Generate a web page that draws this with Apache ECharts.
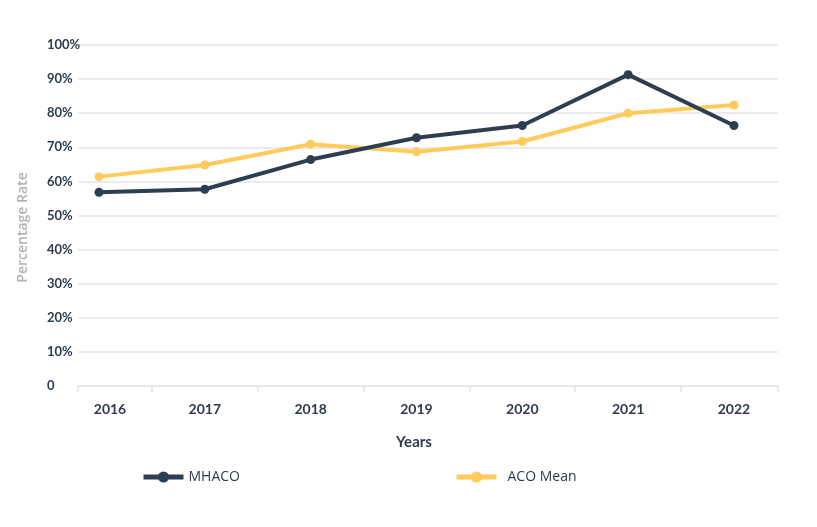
<!DOCTYPE html>
<html>
<head>
<meta charset="utf-8">
<script src="https://cdn.jsdelivr.net/npm/echarts@6/dist/echarts.min.js"></script>
<style>
html,body{margin:0;padding:0;background:#fff;}
#chart{width:817px;height:527px;}
</style>
</head>
<body>
<div id="chart"></div>
<script>
const years = [2016, 2017, 2018, 2019, 2020, 2021, 2022];
const mhaco = [56.8, 57.7, 66.4, 72.8, 76.4, 91.3, 76.4];
const acoMean = [61.4, 64.8, 70.9, 68.7, 71.7, 80.0, 82.4];
const yTicks = [0, 10, 20, 30, 40, 50, 60, 70, 80, 90, 100];

const dark = '#2d3e50';
const yellow = '#ffcb5b';
const labelColor = '#2e3b4e';
const xMin = 2015.8016, xMax = 2022.416;
const tickVals = [xMin].concat(years.slice(1).map(y => y - 0.5)).concat([xMax]);

const legendBase = { top: 470, itemWidth: 40, itemHeight: 14, itemGap: 6, padding: 0,
  lineStyle: { width: 5 } };

const chart = echarts.init(document.getElementById('chart'));
chart.setOption({
  animation: false,
  backgroundColor: '#fff',
  grid: { left: 78, right: 39, top: 45, bottom: 141 },
  legend: [
    Object.assign({}, legendBase, { data: ['MHACO'], left: 141,
      textStyle: { fontFamily: 'Open Sans', fontSize: 14, color: labelColor } }),
    Object.assign({}, legendBase, { data: ['ACO Mean'], left: 454,
      textStyle: { fontFamily: 'Open Sans', fontSize: 14, color: labelColor, padding: [0, 0, 0, 6] } })
  ],
  xAxis: {
    type: 'value', min: xMin, max: xMax,
    name: 'Years', nameLocation: 'middle', nameGap: 49,
    nameTextStyle: { fontFamily: 'Lato', fontWeight: 'bold', fontSize: 15, color: labelColor, padding: [0, 28, 0, 0] },
    splitLine: { show: false },
    axisLine: { show: true, lineStyle: { color: '#e8e8e8', width: 2 } },
    axisTick: { show: true, customValues: tickVals, length: 6, lineStyle: { color: '#e3e3e3', width: 1.5 } },
    axisLabel: { customValues: years, margin: 16,
      formatter: v => (v === years[0] ? '{first|' + v + '}' : String(v)),
      rich: { first: { padding: [0, 0, 0, 22], fontFamily: 'Lato', fontWeight: 'bold', fontSize: 14, color: labelColor } },
      fontFamily: 'Lato', fontWeight: 'bold', fontSize: 14, color: labelColor }
  },
  yAxis: {
    type: 'value', min: 0, max: 100, interval: 10,
    name: 'Percentage Rate', nameLocation: 'middle', nameGap: 48,
    nameTextStyle: { fontFamily: 'Open Sans', fontWeight: 600, fontSize: 14, color: '#b3b3b3', padding: [0, 24, 0, 0] },
    axisLine: { show: false }, axisTick: { show: false },
    splitLine: { lineStyle: { color: '#ebebeb', width: 2 } },
    axisLabel: { align: 'left', margin: 31, fontFamily: 'Lato', fontWeight: 'bold', fontSize: 13, color: labelColor,
      formatter: v => (v === 0 ? '0' : v + '%') }
  },
  series: [
    { name: 'ACO Mean', type: 'line', data: years.map((y, i) => [y, acoMean[i]]),
      symbol: 'circle', symbolSize: 9, lineStyle: { width: 4, color: yellow }, itemStyle: { color: yellow } },
    { name: 'MHACO', type: 'line', data: years.map((y, i) => [y, mhaco[i]]),
      symbol: 'circle', symbolSize: 9, lineStyle: { width: 4, color: dark }, itemStyle: { color: dark } }
  ]
});
</script>
</body>
</html>
